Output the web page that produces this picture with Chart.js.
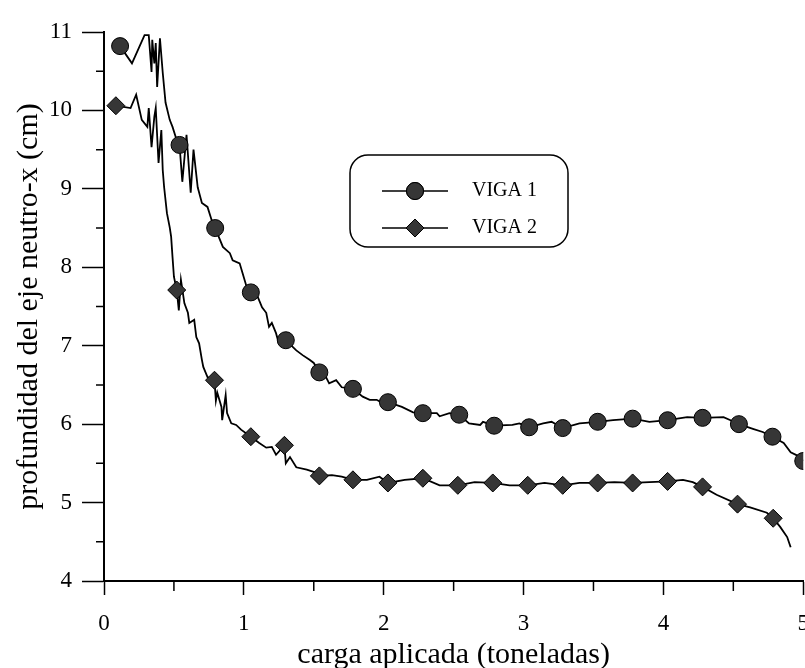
<!DOCTYPE html>
<html>
<head>
<meta charset="utf-8">
<script src="https://cdn.jsdelivr.net/npm/chart.js@4.4.1/dist/chart.umd.min.js"></script>
<style>
  html, body { margin: 0; padding: 0; background: #fff; overflow: hidden; }
  #wrap { width: 824px; height: 668px; }
</style>
</head>
<body>
<div id="wrap"><canvas id="vigaChart"></canvas></div>
<script>
// carga aplicada (toneladas) / profundidad del eje neutro (cm)
var v1Load = [0.115,0.20,0.29,0.32,0.34,0.345,0.36,0.37,0.38,0.40,0.42,0.44,0.47,0.49,0.52,0.54,0.56,0.59,0.62,0.64,0.67,0.70,0.74,0.77,0.795,0.85,0.90,0.92,0.97,0.99,1.02,1.05,1.10,1.13,1.16,1.18,1.20,1.23,1.25,1.30,1.375,1.42,1.47,1.50,1.54,1.59,1.61,1.66,1.70,1.78,1.85,1.90,1.95,1.99,2.03,2.13,2.21,2.28,2.38,2.40,2.47,2.54,2.61,2.69,2.71,2.79,2.92,2.97,3.04,3.14,3.20,3.28,3.40,3.53,3.64,3.78,3.90,4.03,4.17,4.28,4.43,4.48,4.54,4.64,4.71,4.78,4.86,4.91,4.98,5.00];
var v1Depth = [10.82,10.60,10.96,10.96,10.49,10.90,10.60,10.86,10.30,10.92,10.48,10.10,9.88,9.79,9.62,9.56,9.09,9.69,8.95,9.50,9.02,8.82,8.77,8.60,8.50,8.26,8.18,8.09,8.05,7.93,7.75,7.68,7.62,7.49,7.42,7.24,7.29,7.16,7.03,7.07,6.94,6.88,6.82,6.78,6.66,6.59,6.52,6.56,6.47,6.45,6.35,6.31,6.31,6.27,6.28,6.22,6.15,6.14,6.14,6.10,6.14,6.12,6.01,5.99,6.03,5.98,5.99,6.01,5.96,6.01,6.03,5.95,6.01,6.03,6.05,6.07,6.03,6.05,6.09,6.08,6.09,6.05,6.00,5.94,5.90,5.84,5.76,5.64,5.58,5.53];
var v1MarkAt = [0.115,0.54,0.795,1.05,1.30,1.54,1.78,2.03,2.28,2.54,2.79,3.04,3.28,3.53,3.78,4.03,4.28,4.54,4.78,5.00];

var v2Load = [0.085,0.19,0.23,0.27,0.31,0.32,0.34,0.36,0.37,0.39,0.41,0.42,0.43,0.45,0.47,0.48,0.49,0.50,0.52,0.535,0.55,0.575,0.60,0.61,0.645,0.66,0.68,0.70,0.71,0.74,0.79,0.80,0.81,0.84,0.845,0.87,0.88,0.91,0.945,0.98,1.05,1.11,1.16,1.20,1.23,1.29,1.30,1.33,1.375,1.45,1.52,1.54,1.63,1.70,1.78,1.88,1.97,2.03,2.15,2.28,2.40,2.53,2.65,2.78,2.90,3.03,3.15,3.28,3.40,3.53,3.65,3.78,3.90,4.03,4.14,4.21,4.28,4.38,4.53,4.62,4.74,4.785,4.835,4.885,4.91];
var v2Depth = [10.06,10.03,10.20,9.88,9.79,10.03,9.53,9.92,10.03,9.33,9.75,9.24,9.02,8.69,8.51,8.39,8.13,7.88,7.71,7.45,7.84,7.54,7.42,7.29,7.33,7.11,7.03,6.82,6.73,6.60,6.56,6.30,6.40,6.22,6.05,6.37,6.14,6.01,5.99,5.93,5.84,5.76,5.70,5.71,5.61,5.73,5.50,5.58,5.45,5.42,5.38,5.34,5.35,5.33,5.29,5.29,5.33,5.25,5.29,5.31,5.22,5.22,5.26,5.25,5.22,5.22,5.25,5.22,5.25,5.25,5.26,5.25,5.26,5.27,5.29,5.26,5.20,5.10,4.98,4.94,4.87,4.80,4.69,4.56,4.43];
var v2MarkAt = [0.085,0.52,0.79,1.05,1.29,1.54,1.78,2.03,2.28,2.53,2.78,3.03,3.28,3.53,3.78,4.03,4.28,4.53,4.785];

var seriesNames = ["VIGA 1", "VIGA 2"];
var xTitle = "carga aplicada (toneladas)";
var yTitle = "profundidad del eje neutro-x (cm)";

var serif = "'Liberation Serif', 'Times New Roman', serif";
var markFill = "#363636";

function toPoints(xs, ys) {
  return xs.map(function(x, i) { return {x: x, y: ys[i]}; });
}

// minor ticks + legend box
var extras = {
  id: "extras",
  afterDraw: function(chart) {
    var ctx = chart.ctx;
    var xs = chart.scales.x, ys = chart.scales.y;
    var area = chart.chartArea;
    ctx.save();
    ctx.strokeStyle = "#000";
    ctx.lineWidth = 1.5;
    ctx.beginPath();
    for (var v = 0.5; v < 5; v += 1) {
      var px = xs.getPixelForValue(v);
      ctx.moveTo(px, area.bottom);
      ctx.lineTo(px, area.bottom + 10);
    }
    for (var w = 4.5; w < 11; w += 1) {
      var py = ys.getPixelForValue(w);
      ctx.moveTo(area.left, py);
      ctx.lineTo(area.left - 8, py);
    }
    ctx.stroke();

    // legend
    var bx = area.left + 246, by = area.top + 123, bw = 218, bh = 92, r = 18;
    ctx.lineWidth = 1.5;
    ctx.beginPath();
    ctx.roundRect(bx, by, bw, bh, r);
    ctx.stroke();
    var rows = [by + 36, by + 73];
    var styles = ["circle", "rectRot"];
    ctx.font = "20px " + serif;
    ctx.textBaseline = "middle";
    ctx.fillStyle = "#000";
    rows.forEach(function(ry, i) {
      ctx.beginPath();
      ctx.moveTo(bx + 32, ry);
      ctx.lineTo(bx + 98, ry);
      ctx.stroke();
      ctx.fillStyle = markFill;
      ctx.lineWidth = 1;
      Chart.helpers.drawPoint(ctx, {pointStyle: styles[i], radius: i ? 9 : 8.5, borderWidth: 1, rotation: 0}, bx + 65, ry);
      ctx.fill();
      ctx.stroke();
      ctx.lineWidth = 1.5;
      ctx.fillStyle = "#000";
      ctx.fillText(seriesNames[i], bx + 122, ry);
    });
    ctx.restore();
  }
};

new Chart("vigaChart", {
  type: "line",
  data: {
    datasets: [{
      label: seriesNames[0],
      data: toPoints(v1Load, v1Depth),
      borderColor: "#000",
      borderWidth: 1.8,
      backgroundColor: markFill,
      pointBackgroundColor: markFill,
      pointBorderColor: "#000",
      pointBorderWidth: 1,
      pointStyle: "circle",
      pointRadius: function(c) { return v1MarkAt.indexOf(v1Load[c.dataIndex]) >= 0 ? 8.5 : 0; },
      fill: false,
      tension: 0
    }, {
      label: seriesNames[1],
      data: toPoints(v2Load, v2Depth),
      borderColor: "#000",
      borderWidth: 1.8,
      backgroundColor: markFill,
      pointBackgroundColor: markFill,
      pointBorderColor: "#000",
      pointBorderWidth: 1,
      pointStyle: "rectRot",
      pointRadius: function(c) { return v2MarkAt.indexOf(v2Load[c.dataIndex]) >= 0 ? 9 : 0; },
      fill: false,
      tension: 0
    }]
  },
  options: {
    responsive: true,
    maintainAspectRatio: false,
    animation: false,
    layout: {padding: {top: 32, right: 0, bottom: 0, left: 0}},
    plugins: {
      legend: {display: false},
      tooltip: {enabled: false}
    },
    scales: {
      x: {
        type: "linear",
        min: 0,
        max: 5,
        afterFit: function(s) { s.height = 87; },
        border: {display: true, color: "#000", width: 2},
        grid: {drawOnChartArea: false, drawTicks: true, tickLength: 14, tickColor: "#000", tickWidth: 1.5},
        ticks: {stepSize: 1, padding: 15, color: "#000", font: {family: serif, size: 23}},
        title: {display: true, text: xTitle, color: "#000", font: {family: serif, size: 30}, padding: {top: 0, bottom: -5}}
      },
      y: {
        min: 4,
        max: 11,
        afterFit: function(s) { s.width = 104; },
        border: {display: true, color: "#000", width: 2},
        grid: {drawOnChartArea: false, drawTicks: true, tickLength: 22, tickColor: "#000", tickWidth: 1.5},
        ticks: {stepSize: 1, padding: 10, color: "#000", font: {family: serif, size: 23}},
        title: {display: true, text: yTitle, color: "#000", font: {family: serif, size: 30}, padding: {top: 11, bottom: 0}}
      }
    }
  },
  plugins: [extras]
});
</script>
</body>
</html>
